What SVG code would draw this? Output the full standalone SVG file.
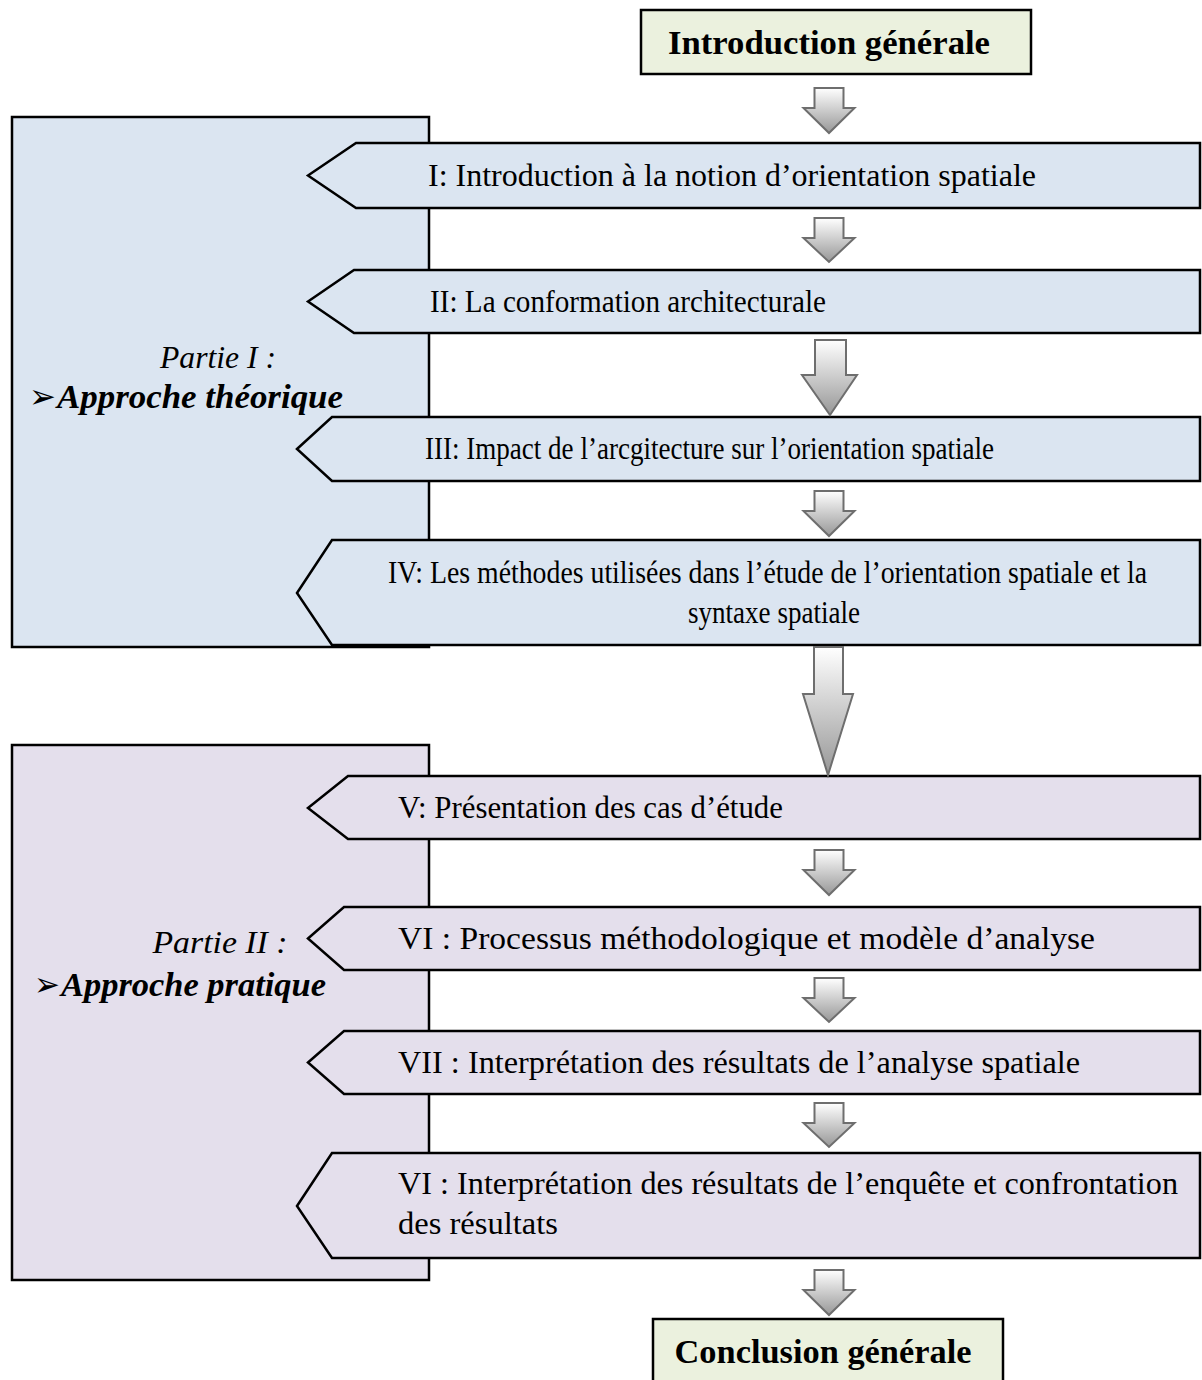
<svg xmlns="http://www.w3.org/2000/svg" width="1202" height="1380" viewBox="0 0 1202 1380">
  <defs>
    <linearGradient id="arrowFill" x1="0" y1="0" x2="0" y2="1">
      <stop offset="0" stop-color="#ffffff"/>
      <stop offset="1" stop-color="#979797"/>
    </linearGradient>
    <style>
      .part1 { fill: #dbe5f1; stroke: #000; stroke-width: 2.5; }
      .part2 { fill: #e4dfec; stroke: #000; stroke-width: 2.5; }
      .term { fill: #ebf1de; stroke: #000; stroke-width: 2.5; }
      .chap1 { fill: #dbe5f1; stroke: #000; stroke-width: 2.5; stroke-linejoin: miter; }
      .chap2 { fill: #e4dfec; stroke: #000; stroke-width: 2.5; stroke-linejoin: miter; }
      .arrow { fill: url(#arrowFill); stroke: #6e6e6e; stroke-width: 2; stroke-linejoin: miter; }
      text { font-family: "Liberation Serif", "Times New Roman", serif; fill: #000; }
      .lbl { font-size: 31px; }
      .title { font-size: 34.5px; font-weight: bold; }
      .part { font-size: 32.5px; font-style: italic; }
      .partb { font-size: 34.5px; font-style: italic; font-weight: bold; }
      .bullet { font-family: "DejaVu Sans", sans-serif; font-style: normal; font-weight: normal; font-size: 34px; }
    </style>
  </defs>

  <!-- part frames -->
  <g id="partie1">
    <rect class="part1" x="12" y="117" width="417" height="530"/>
    <text class="part" x="218" y="368" text-anchor="middle" textLength="116" lengthAdjust="spacingAndGlyphs">Partie I :</text>
    <text class="partb" x="29" y="408"><tspan class="bullet" textLength="27" lengthAdjust="spacingAndGlyphs">➢</tspan><tspan x="57" textLength="286" lengthAdjust="spacingAndGlyphs">Approche théorique</tspan></text>
  </g>
  <g id="partie2">
    <rect class="part2" x="12" y="745" width="417" height="535"/>
    <text class="part" x="220" y="953" text-anchor="middle" textLength="135" lengthAdjust="spacingAndGlyphs">Partie II :</text>
    <text class="partb" x="34" y="996"><tspan class="bullet" textLength="26" lengthAdjust="spacingAndGlyphs">➢</tspan><tspan x="61" textLength="265" lengthAdjust="spacingAndGlyphs">Approche pratique</tspan></text>
  </g>

  <!-- start / end -->
  <g id="introduction">
    <rect class="term" x="641" y="10" width="390" height="64"/>
    <text class="title" x="829" y="54" text-anchor="middle" textLength="322" lengthAdjust="spacingAndGlyphs">Introduction générale</text>
  </g>
  <g id="conclusion">
    <rect class="term" x="653" y="1319" width="350" height="80"/>
    <text class="title" x="823" y="1363" text-anchor="middle" textLength="297" lengthAdjust="spacingAndGlyphs">Conclusion générale</text>
  </g>

  <!-- chapters -->
  <g id="chapitre1">
    <polygon class="chap1" points="308,175.5 356,143 1200,143 1200,208 356,208"/>
    <text class="lbl" x="428" y="186" textLength="608" lengthAdjust="spacingAndGlyphs">I: Introduction à la notion d’orientation spatiale</text>
  </g>
  <g id="chapitre2">
    <polygon class="chap1" points="308,301.5 354,270 1200,270 1200,333 354,333"/>
    <text class="lbl" x="430" y="312" textLength="396" lengthAdjust="spacingAndGlyphs">II: La conformation architecturale</text>
  </g>
  <g id="chapitre3">
    <polygon class="chap1" points="297,449 332,417 1200,417 1200,481 332,481"/>
    <text class="lbl" x="425" y="459" textLength="569" lengthAdjust="spacingAndGlyphs">III: Impact de l’arcgitecture sur l’orientation spatiale</text>
  </g>
  <g id="chapitre4">
    <polygon class="chap1" points="297,593 332,540 1200,540 1200,645 332,645"/>
    <text class="lbl" x="388" y="583" textLength="759" lengthAdjust="spacingAndGlyphs">IV: Les méthodes utilisées dans l’étude de l’orientation spatiale et la</text>
    <text class="lbl" x="688" y="623" textLength="172" lengthAdjust="spacingAndGlyphs">syntaxe spatiale</text>
  </g>
  <g id="chapitre5">
    <polygon class="chap2" points="308,808 348,776 1200,776 1200,839 348,839"/>
    <text class="lbl" x="398" y="818" textLength="385" lengthAdjust="spacingAndGlyphs">V: Présentation des cas d’étude</text>
  </g>
  <g id="chapitre6">
    <polygon class="chap2" points="308,938.5 344,907 1200,907 1200,970 344,970"/>
    <text class="lbl" x="398" y="949" textLength="697" lengthAdjust="spacingAndGlyphs">VI : Processus méthodologique et modèle d’analyse</text>
  </g>
  <g id="chapitre7">
    <polygon class="chap2" points="308,1062.5 344,1031 1200,1031 1200,1094 344,1094"/>
    <text class="lbl" x="398" y="1073" textLength="682" lengthAdjust="spacingAndGlyphs">VII : Interprétation des résultats de l’analyse spatiale</text>
  </g>
  <g id="chapitre8">
    <polygon class="chap2" points="297,1206 332,1153 1200,1153 1200,1258 332,1258"/>
    <text class="lbl" x="398" y="1194" textLength="780" lengthAdjust="spacingAndGlyphs">VI : Interprétation des résultats de l’enquête et confrontation</text>
    <text class="lbl" x="398" y="1234" textLength="160" lengthAdjust="spacingAndGlyphs">des résultats</text>
  </g>

  <!-- block arrows between steps -->
  <g id="connecteurs">
    <polygon class="arrow" points="814.5,88 843.5,88 843.5,108 854.5,108 829,133 803.5,108 814.5,108"/>
    <polygon class="arrow" points="814.5,218 843.5,218 843.5,238 854.5,238 829,262 803.5,238 814.5,238"/>
    <polygon class="arrow" points="815,340 846,340 846,375 857,375 830,415 802,375 815,375"/>
    <polygon class="arrow" points="814.5,491 843.5,491 843.5,511 854.5,511 829,536 803.5,511 814.5,511"/>
    <polygon class="arrow" points="814,647 843,647 843,694 853,694 828,775 803,694 814,694"/>
    <polygon class="arrow" points="814.5,850 843.5,850 843.5,870 854.5,870 829,895 803.5,870 814.5,870"/>
    <polygon class="arrow" points="814.5,978 843.5,978 843.5,998 854.5,998 829,1022 803.5,998 814.5,998"/>
    <polygon class="arrow" points="814.5,1103 843.5,1103 843.5,1123 854.5,1123 829,1147 803.5,1123 814.5,1123"/>
    <polygon class="arrow" points="814.5,1270 843.5,1270 843.5,1290 854.5,1290 829,1315 803.5,1290 814.5,1290"/>
  </g>
</svg>
